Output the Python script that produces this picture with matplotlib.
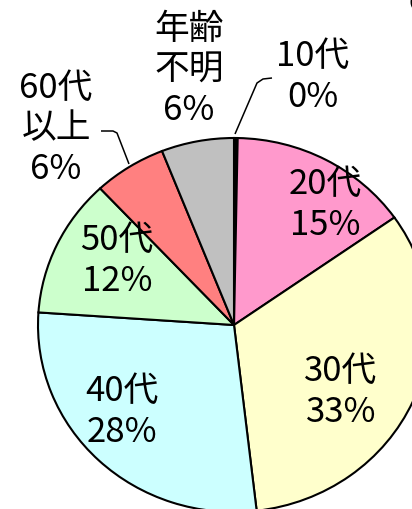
import matplotlib.pyplot as plt

plt.rcParams['font.family'] = ['Noto Sans CJK JP', 'DejaVu Sans']

# age groups, share of respondents (%) - 10代 is a sliver that rounds to 0%
groups = ["10代", "20代", "30代", "40代", "50代", "60代\n以上", "年齢\n不明"]
shares = [0.3, 15, 33, 28, 12, 6, 6]
pct_labels = ["0%", "15%", "33%", "28%", "12%", "6%", "6%"]
colors = ["#000000", "#FF99CC", "#FFFFCC", "#CCFFFF", "#CCFFCC", "#FF8080", "#C0C0C0"]

# pie is slightly squashed in the original: centre and radii in pixels
CX, CY, RX, RY = 234, 325, 196, 187
W, H = 412, 509


def px(x, y):
    # pixel position -> data coords of the unit pie
    return (x - CX) / RX, (CY - y) / RY


fig = plt.figure(figsize=(W / 100, H / 100), dpi=100)
ax = fig.add_axes([0, 0, 1, 1])

ax.pie(shares, colors=colors, startangle=90, counterclock=False,
       radius=1, center=(0, 0),
       wedgeprops=dict(edgecolor="black", linewidth=1.5))

ax.set_aspect("auto")
ax.set_xlim(px(0, 0)[0], px(W, 0)[0])
ax.set_ylim(px(0, H)[1], px(0, 0)[1])
ax.axis("off")

# label centres (pixels)
label_pos = [(313, 77), (325, 205), (341, 392), (122, 412),
             (117, 261), (56, 129), (189, 70)]
for name, pct, (x, y) in zip(groups, pct_labels, label_pos):
    ax.text(*px(x, y), f"{name}\n{pct}", ha="center", va="center",
            fontsize=25, linespacing=1.2, color="black")

# leader lines for the small slices
lead_10 = [(235, 134), (257, 83), (263, 79), (272, 78)]
lead_60 = [(129, 164), (117, 133), (113, 131), (101, 131)]
for pts in (lead_10, lead_60):
    xs, ys = zip(*[px(x, y) for x, y in pts])
    ax.plot(xs, ys, color="black", lw=1.1, solid_capstyle="butt")

# glyph cut off at the top right corner, as in the original
ax.text(*px(409, 17), "O", ha="left", va="bottom", fontsize=18)

fig.savefig("out.png", dpi=100)
